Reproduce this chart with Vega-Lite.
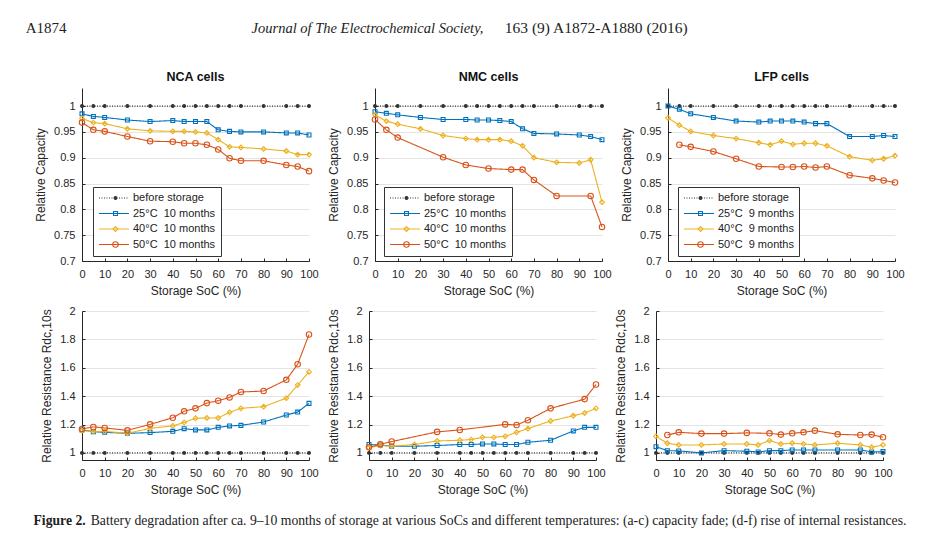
{
"$schema": "https://vega.github.io/schema/vega-lite/v6.json",
"padding": {"left": 25, "top": 21, "right": 5, "bottom": 5},
"title": {"text": "A1874", "orient": "left", "angle": 0, "anchor": "end", "frame": "bounds", "align": "left", "baseline": "top", "offset": -33, "font": "Liberation Serif", "fontStyle": "normal", "fontSize": 15, "fontWeight": "normal", "color": "#222222"},
"datasets": {
"a": [
{"s":"b","x":0,"v":1},{"s":"b","x":5,"v":1},{"s":"b","x":10,"v":1},{"s":"b","x":20,"v":1},{"s":"b","x":30,"v":1},{"s":"b","x":40,"v":1},{"s":"b","x":45,"v":1},{"s":"b","x":50,"v":1},{"s":"b","x":55,"v":1},{"s":"b","x":60,"v":1},{"s":"b","x":65,"v":1},{"s":"b","x":70,"v":1},{"s":"b","x":80,"v":1},{"s":"b","x":90,"v":1},{"s":"b","x":95,"v":1},{"s":"b","x":100,"v":1},
{"s":"25","x":0,"v":0.985},{"s":"25","x":5,"v":0.980},{"s":"25","x":10,"v":0.978},{"s":"25","x":20,"v":0.973},{"s":"25","x":30,"v":0.970},{"s":"25","x":40,"v":0.972},{"s":"25","x":45,"v":0.970},{"s":"25","x":50,"v":0.970},{"s":"25","x":55,"v":0.970},{"s":"25","x":60,"v":0.954},{"s":"25","x":65,"v":0.951},{"s":"25","x":70,"v":0.950},{"s":"25","x":80,"v":0.950},{"s":"25","x":90,"v":0.948},{"s":"25","x":95,"v":0.948},{"s":"25","x":100,"v":0.944},
{"s":"40","x":0,"v":0.976},{"s":"40","x":5,"v":0.968},{"s":"40","x":10,"v":0.966},{"s":"40","x":20,"v":0.956},{"s":"40","x":30,"v":0.952},{"s":"40","x":40,"v":0.951},{"s":"40","x":45,"v":0.951},{"s":"40","x":50,"v":0.950},{"s":"40","x":55,"v":0.948},{"s":"40","x":60,"v":0.935},{"s":"40","x":65,"v":0.921},{"s":"40","x":70,"v":0.920},{"s":"40","x":80,"v":0.917},{"s":"40","x":90,"v":0.913},{"s":"40","x":95,"v":0.906},{"s":"40","x":100,"v":0.906},
{"s":"50","x":0,"v":0.968},{"s":"50","x":5,"v":0.954},{"s":"50","x":10,"v":0.951},{"s":"50","x":20,"v":0.941},{"s":"50","x":30,"v":0.932},{"s":"50","x":40,"v":0.931},{"s":"50","x":45,"v":0.928},{"s":"50","x":50,"v":0.928},{"s":"50","x":55,"v":0.925},{"s":"50","x":60,"v":0.916},{"s":"50","x":65,"v":0.899},{"s":"50","x":70,"v":0.894},{"s":"50","x":80,"v":0.894},{"s":"50","x":90,"v":0.886},{"s":"50","x":95,"v":0.883},{"s":"50","x":100,"v":0.874}
],
"b": [
{"s":"b","x":0,"v":1},{"s":"b","x":5,"v":1},{"s":"b","x":10,"v":1},{"s":"b","x":20,"v":1},{"s":"b","x":30,"v":1},{"s":"b","x":40,"v":1},{"s":"b","x":45,"v":1},{"s":"b","x":50,"v":1},{"s":"b","x":55,"v":1},{"s":"b","x":60,"v":1},{"s":"b","x":65,"v":1},{"s":"b","x":70,"v":1},{"s":"b","x":80,"v":1},{"s":"b","x":90,"v":1},{"s":"b","x":95,"v":1},{"s":"b","x":100,"v":1},
{"s":"25","x":0,"v":0.989},{"s":"25","x":5,"v":0.986},{"s":"25","x":10,"v":0.983},{"s":"25","x":20,"v":0.978},{"s":"25","x":30,"v":0.974},{"s":"25","x":40,"v":0.974},{"s":"25","x":45,"v":0.973},{"s":"25","x":50,"v":0.973},{"s":"25","x":55,"v":0.972},{"s":"25","x":60,"v":0.970},{"s":"25","x":65,"v":0.956},{"s":"25","x":70,"v":0.947},{"s":"25","x":80,"v":0.946},{"s":"25","x":90,"v":0.944},{"s":"25","x":95,"v":0.941},{"s":"25","x":100,"v":0.935},
{"s":"40","x":0,"v":0.983},{"s":"40","x":5,"v":0.971},{"s":"40","x":10,"v":0.965},{"s":"40","x":20,"v":0.956},{"s":"40","x":30,"v":0.943},{"s":"40","x":40,"v":0.937},{"s":"40","x":45,"v":0.935},{"s":"40","x":50,"v":0.935},{"s":"40","x":55,"v":0.935},{"s":"40","x":60,"v":0.932},{"s":"40","x":65,"v":0.923},{"s":"40","x":70,"v":0.900},{"s":"40","x":80,"v":0.891},{"s":"40","x":90,"v":0.890},{"s":"40","x":95,"v":0.896},{"s":"40","x":100,"v":0.814},
{"s":"50","x":0,"v":0.974},{"s":"50","x":5,"v":0.954},{"s":"50","x":10,"v":0.939},{"s":"50","x":30,"v":0.901},{"s":"50","x":40,"v":0.886},{"s":"50","x":50,"v":0.879},{"s":"50","x":60,"v":0.877},{"s":"50","x":65,"v":0.877},{"s":"50","x":70,"v":0.857},{"s":"50","x":80,"v":0.826},{"s":"50","x":95,"v":0.826},{"s":"50","x":100,"v":0.766}
],
"c": [
{"s":"b","x":0,"v":1},{"s":"b","x":5,"v":1},{"s":"b","x":10,"v":1},{"s":"b","x":20,"v":1},{"s":"b","x":30,"v":1},{"s":"b","x":40,"v":1},{"s":"b","x":45,"v":1},{"s":"b","x":50,"v":1},{"s":"b","x":55,"v":1},{"s":"b","x":60,"v":1},{"s":"b","x":65,"v":1},{"s":"b","x":70,"v":1},{"s":"b","x":80,"v":1},{"s":"b","x":90,"v":1},{"s":"b","x":95,"v":1},{"s":"b","x":100,"v":1},
{"s":"25","x":0,"v":1.0},{"s":"25","x":5,"v":0.994},{"s":"25","x":10,"v":0.985},{"s":"25","x":20,"v":0.978},{"s":"25","x":30,"v":0.971},{"s":"25","x":40,"v":0.969},{"s":"25","x":45,"v":0.971},{"s":"25","x":50,"v":0.971},{"s":"25","x":55,"v":0.971},{"s":"25","x":60,"v":0.969},{"s":"25","x":65,"v":0.966},{"s":"25","x":70,"v":0.966},{"s":"25","x":80,"v":0.941},{"s":"25","x":90,"v":0.941},{"s":"25","x":95,"v":0.943},{"s":"25","x":100,"v":0.941},
{"s":"40","x":0,"v":0.977},{"s":"40","x":5,"v":0.963},{"s":"40","x":10,"v":0.951},{"s":"40","x":20,"v":0.943},{"s":"40","x":30,"v":0.937},{"s":"40","x":40,"v":0.929},{"s":"40","x":45,"v":0.925},{"s":"40","x":50,"v":0.932},{"s":"40","x":55,"v":0.926},{"s":"40","x":60,"v":0.928},{"s":"40","x":65,"v":0.928},{"s":"40","x":70,"v":0.923},{"s":"40","x":80,"v":0.902},{"s":"40","x":90,"v":0.895},{"s":"40","x":95,"v":0.898},{"s":"40","x":100,"v":0.904},
{"s":"50","x":5,"v":0.925},{"s":"50","x":10,"v":0.921},{"s":"50","x":20,"v":0.912},{"s":"50","x":30,"v":0.898},{"s":"50","x":40,"v":0.883},{"s":"50","x":50,"v":0.882},{"s":"50","x":55,"v":0.882},{"s":"50","x":60,"v":0.883},{"s":"50","x":65,"v":0.881},{"s":"50","x":70,"v":0.883},{"s":"50","x":80,"v":0.866},{"s":"50","x":90,"v":0.860},{"s":"50","x":95,"v":0.856},{"s":"50","x":100,"v":0.852}
],
"d": [
{"s":"b","x":0,"v":1},{"s":"b","x":5,"v":1},{"s":"b","x":10,"v":1},{"s":"b","x":20,"v":1},{"s":"b","x":30,"v":1},{"s":"b","x":40,"v":1},{"s":"b","x":45,"v":1},{"s":"b","x":50,"v":1},{"s":"b","x":55,"v":1},{"s":"b","x":60,"v":1},{"s":"b","x":65,"v":1},{"s":"b","x":70,"v":1},{"s":"b","x":80,"v":1},{"s":"b","x":90,"v":1},{"s":"b","x":95,"v":1},{"s":"b","x":100,"v":1},
{"s":"25","x":0,"v":1.162},{"s":"25","x":5,"v":1.150},{"s":"25","x":10,"v":1.145},{"s":"25","x":20,"v":1.138},{"s":"25","x":30,"v":1.143},{"s":"25","x":40,"v":1.152},{"s":"25","x":45,"v":1.171},{"s":"25","x":50,"v":1.162},{"s":"25","x":55,"v":1.162},{"s":"25","x":60,"v":1.180},{"s":"25","x":65,"v":1.190},{"s":"25","x":70,"v":1.194},{"s":"25","x":80,"v":1.218},{"s":"25","x":90,"v":1.267},{"s":"25","x":95,"v":1.288},{"s":"25","x":100,"v":1.349},
{"s":"40","x":0,"v":1.157},{"s":"40","x":5,"v":1.150},{"s":"40","x":10,"v":1.152},{"s":"40","x":20,"v":1.138},{"s":"40","x":30,"v":1.173},{"s":"40","x":40,"v":1.190},{"s":"40","x":45,"v":1.215},{"s":"40","x":50,"v":1.244},{"s":"40","x":55,"v":1.246},{"s":"40","x":60,"v":1.246},{"s":"40","x":65,"v":1.286},{"s":"40","x":70,"v":1.314},{"s":"40","x":80,"v":1.326},{"s":"40","x":90,"v":1.386},{"s":"40","x":95,"v":1.478},{"s":"40","x":100,"v":1.571},
{"s":"50","x":0,"v":1.169},{"s":"50","x":5,"v":1.183},{"s":"50","x":10,"v":1.176},{"s":"50","x":20,"v":1.159},{"s":"50","x":30,"v":1.201},{"s":"50","x":40,"v":1.248},{"s":"50","x":45,"v":1.293},{"s":"50","x":50,"v":1.314},{"s":"50","x":55,"v":1.351},{"s":"50","x":60,"v":1.368},{"s":"50","x":65,"v":1.391},{"s":"50","x":70,"v":1.429},{"s":"50","x":80,"v":1.436},{"s":"50","x":90,"v":1.515},{"s":"50","x":95,"v":1.625},{"s":"50","x":100,"v":1.834}
],
"e": [
{"s":"b","x":0,"v":1},{"s":"b","x":5,"v":1},{"s":"b","x":10,"v":1},{"s":"b","x":20,"v":1},{"s":"b","x":30,"v":1},{"s":"b","x":40,"v":1},{"s":"b","x":45,"v":1},{"s":"b","x":50,"v":1},{"s":"b","x":55,"v":1},{"s":"b","x":60,"v":1},{"s":"b","x":65,"v":1},{"s":"b","x":70,"v":1},{"s":"b","x":80,"v":1},{"s":"b","x":90,"v":1},{"s":"b","x":95,"v":1},{"s":"b","x":100,"v":1},
{"s":"25","x":0,"v":1.059},{"s":"25","x":5,"v":1.056},{"s":"25","x":10,"v":1.047},{"s":"25","x":20,"v":1.047},{"s":"25","x":30,"v":1.052},{"s":"25","x":40,"v":1.059},{"s":"25","x":45,"v":1.059},{"s":"25","x":50,"v":1.063},{"s":"25","x":55,"v":1.063},{"s":"25","x":60,"v":1.059},{"s":"25","x":65,"v":1.059},{"s":"25","x":70,"v":1.075},{"s":"25","x":80,"v":1.089},{"s":"25","x":90,"v":1.155},{"s":"25","x":95,"v":1.180},{"s":"25","x":100,"v":1.180},
{"s":"40","x":0,"v":1.037},{"s":"40","x":5,"v":1.052},{"s":"40","x":10,"v":1.047},{"s":"40","x":20,"v":1.059},{"s":"40","x":30,"v":1.084},{"s":"40","x":40,"v":1.089},{"s":"40","x":45,"v":1.094},{"s":"40","x":50,"v":1.110},{"s":"40","x":55,"v":1.110},{"s":"40","x":60,"v":1.117},{"s":"40","x":65,"v":1.145},{"s":"40","x":70,"v":1.171},{"s":"40","x":80,"v":1.225},{"s":"40","x":90,"v":1.262},{"s":"40","x":95,"v":1.281},{"s":"40","x":100,"v":1.314},
{"s":"50","x":0,"v":1.040},{"s":"50","x":5,"v":1.061},{"s":"50","x":10,"v":1.080},{"s":"50","x":30,"v":1.148},{"s":"50","x":40,"v":1.162},{"s":"50","x":60,"v":1.201},{"s":"50","x":65,"v":1.197},{"s":"50","x":70,"v":1.230},{"s":"50","x":80,"v":1.314},{"s":"50","x":95,"v":1.379},{"s":"50","x":100,"v":1.482}
],
"f": [
{"s":"b","x":0,"v":1},{"s":"b","x":5,"v":1},{"s":"b","x":10,"v":1},{"s":"b","x":20,"v":1},{"s":"b","x":30,"v":1},{"s":"b","x":40,"v":1},{"s":"b","x":45,"v":1},{"s":"b","x":50,"v":1},{"s":"b","x":55,"v":1},{"s":"b","x":60,"v":1},{"s":"b","x":65,"v":1},{"s":"b","x":70,"v":1},{"s":"b","x":80,"v":1},{"s":"b","x":90,"v":1},{"s":"b","x":95,"v":1},{"s":"b","x":100,"v":1},
{"s":"25","x":0,"v":1.044},{"s":"25","x":5,"v":1.016},{"s":"25","x":10,"v":1.014},{"s":"25","x":20,"v":1.000},{"s":"25","x":30,"v":1.016},{"s":"25","x":40,"v":1.012},{"s":"25","x":45,"v":1.007},{"s":"25","x":50,"v":1.016},{"s":"25","x":55,"v":1.016},{"s":"25","x":60,"v":1.021},{"s":"25","x":65,"v":1.021},{"s":"25","x":70,"v":1.021},{"s":"25","x":80,"v":1.021},{"s":"25","x":90,"v":1.021},{"s":"25","x":95,"v":1.007},{"s":"25","x":100,"v":1.009},
{"s":"40","x":0,"v":1.117},{"s":"40","x":5,"v":1.068},{"s":"40","x":10,"v":1.056},{"s":"40","x":20,"v":1.056},{"s":"40","x":30,"v":1.063},{"s":"40","x":40,"v":1.063},{"s":"40","x":45,"v":1.056},{"s":"40","x":50,"v":1.087},{"s":"40","x":55,"v":1.063},{"s":"40","x":60,"v":1.068},{"s":"40","x":65,"v":1.063},{"s":"40","x":70,"v":1.056},{"s":"40","x":80,"v":1.068},{"s":"40","x":90,"v":1.056},{"s":"40","x":95,"v":1.040},{"s":"40","x":100,"v":1.056},
{"s":"50","x":5,"v":1.126},{"s":"50","x":10,"v":1.145},{"s":"50","x":20,"v":1.136},{"s":"50","x":30,"v":1.136},{"s":"50","x":40,"v":1.141},{"s":"50","x":50,"v":1.138},{"s":"50","x":55,"v":1.129},{"s":"50","x":60,"v":1.138},{"s":"50","x":65,"v":1.145},{"s":"50","x":70,"v":1.157},{"s":"50","x":80,"v":1.131},{"s":"50","x":90,"v":1.126},{"s":"50","x":95,"v":1.129},{"s":"50","x":100,"v":1.110}
]
},
"spacing": 9,
"vconcat": [
{
"title": {"text": "163 (9) A1872-A1880 (2016)", "orient": "left", "angle": 0, "anchor": "end", "frame": "bounds", "align": "left", "baseline": "top", "offset": -654, "font": "Liberation Serif", "fontStyle": "normal", "fontSize": 15.5, "fontWeight": "normal", "color": "#222222"},
"vconcat": [
{
"title": {"text": "Journal of The Electrochemical Society,", "anchor": "start", "frame": "bounds", "dx": 217, "font": "Liberation Serif", "fontStyle": "italic", "fontSize": 14.5, "fontWeight": "normal", "color": "#222222", "offset": 34},
"spacing": 8,
"hconcat": [
{
"width": 227, "height": 173,
"data": {"name": "a"},
"title": {"text": "NCA cells"},
"encoding": {
"x": {"field": "x", "type": "quantitative", "scale": {"domain": [0, 100], "nice": false}, "axis": {"values": [0,10,20,30,40,50,60,70,80,90,100], "title": "Storage SoC (%)"}},
"y": {"field": "v", "type": "quantitative", "scale": {"domain": [0.7, 1.035], "nice": false, "zero": false}, "axis": {"values": [0.7,0.75,0.8,0.85,0.9,0.95,1], "format": "~g", "title": "Relative Capacity"}}
},
"layer": [
{"mark": {"type": "line", "strokeWidth": 1.1},
"encoding": {
"color": {"field": "s", "type": "nominal", "scale": {"domain": ["b","25","40","50"], "range": ["#333333","#0072BD","#EDB120","#D95319"]}, "legend": {"title": null, "orient": "none", "legendX": 11, "legendY": 99, "symbolType": "M-1,0H1", "symbolSize": 900, "symbolStrokeWidth": 1.1, "labelFontSize": 11, "labelColor": "#222222", "padding": 5, "rowPadding": 3.5, "clipHeight": 12, "strokeColor": "#333333", "fillColor": "white", "labelOffset": 3, "labelExpr": "datum.value == 'b' ? 'before storage' : datum.value + '°C\u00a0\u00a010 months'"}},
"strokeDash": {"field": "s", "type": "nominal", "scale": {"domain": ["b","25","40","50"], "range": [[1,1.5],[1,0],[1,0],[1,0]]}, "legend": {"title": null, "orient": "none", "legendX": 11, "legendY": 99, "symbolType": "M-1,0H1", "symbolSize": 900, "symbolStrokeWidth": 1.1, "labelFontSize": 11, "labelColor": "#222222", "padding": 5, "rowPadding": 3.5, "clipHeight": 12, "strokeColor": "#333333", "fillColor": "white", "labelOffset": 3, "labelExpr": "datum.value == 'b' ? 'before storage' : datum.value + '°C\u00a0\u00a010 months'"}}
}},
{"mark": {"type": "point", "filled": false, "strokeWidth": 1.1, "opacity": 1},
"encoding": {
"color": {"field": "s", "type": "nominal", "scale": {"domain": ["b","25","40","50"], "range": ["#333333","#0072BD","#EDB120","#D95319"]}, "legend": {"title": null, "orient": "none", "legendX": 11, "legendY": 99, "labelFontSize": 11, "labelExpr": "''", "padding": 5, "rowPadding": 3.5, "clipHeight": 12, "symbolOffset": 12, "symbolStrokeWidth": 1.1, "labelOffset": 3}},
"shape": {"field": "s", "type": "nominal", "scale": {"domain": ["b","25","40","50"], "range": ["circle","square","diamond","circle"]}, "legend": {"title": null, "orient": "none", "legendX": 11, "legendY": 99, "labelFontSize": 11, "labelExpr": "''", "padding": 5, "rowPadding": 3.5, "clipHeight": 12, "symbolOffset": 12, "symbolStrokeWidth": 1.1, "labelOffset": 3}},
"size": {"field": "s", "type": "nominal", "scale": {"domain": ["b","25","40","50"], "range": [8,30,45,42]}, "legend": {"title": null, "orient": "none", "legendX": 11, "legendY": 99, "labelFontSize": 11, "labelExpr": "''", "padding": 5, "rowPadding": 3.5, "clipHeight": 12, "symbolOffset": 12, "symbolStrokeWidth": 1.1, "labelOffset": 3}},
"fill": {"field": "s", "type": "nominal", "scale": {"domain": ["b","25","40","50"], "range": ["#333333","transparent","transparent","transparent"]}, "legend": {"title": null, "orient": "none", "legendX": 11, "legendY": 99, "labelFontSize": 11, "labelExpr": "''", "padding": 5, "rowPadding": 3.5, "clipHeight": 12, "symbolOffset": 12, "symbolStrokeWidth": 1.1, "labelOffset": 3}}
}},
{"data": {"values": [{"t": "(a)"}]}, "mark": {"type": "text", "align": "left", "baseline": "middle", "dx": 5, "dy": 6, "fontSize": 11, "color": "#222222"},
"encoding": {"x": {"datum": 0, "type": "quantitative"}, "y": {"datum": 1.035, "type": "quantitative"}, "text": {"field": "t"}}}
],
"resolve": {"legend": {"color": "independent", "strokeDash": "independent", "shape": "independent", "size": "independent", "fill": "independent"}}
},
{
"width": 227, "height": 173,
"data": {"name": "b"},
"title": {"text": "NMC cells"},
"encoding": {
"x": {"field": "x", "type": "quantitative", "scale": {"domain": [0, 100], "nice": false}, "axis": {"values": [0,10,20,30,40,50,60,70,80,90,100], "title": "Storage SoC (%)"}},
"y": {"field": "v", "type": "quantitative", "scale": {"domain": [0.7, 1.035], "nice": false, "zero": false}, "axis": {"values": [0.7,0.75,0.8,0.85,0.9,0.95,1], "format": "~g", "title": "Relative Capacity"}}
},
"layer": [
{"mark": {"type": "line", "strokeWidth": 1.1},
"encoding": {
"color": {"field": "s", "type": "nominal", "scale": {"domain": ["b","25","40","50"], "range": ["#333333","#0072BD","#EDB120","#D95319"]}, "legend": {"title": null, "orient": "none", "legendX": 9, "legendY": 99, "symbolType": "M-1,0H1", "symbolSize": 900, "symbolStrokeWidth": 1.1, "labelFontSize": 11, "labelColor": "#222222", "padding": 5, "rowPadding": 3.5, "clipHeight": 12, "strokeColor": "#333333", "fillColor": "white", "labelOffset": 3, "labelExpr": "datum.value == 'b' ? 'before storage' : datum.value + '°C\u00a0\u00a010 months'"}},
"strokeDash": {"field": "s", "type": "nominal", "scale": {"domain": ["b","25","40","50"], "range": [[1,1.5],[1,0],[1,0],[1,0]]}, "legend": {"title": null, "orient": "none", "legendX": 9, "legendY": 99, "symbolType": "M-1,0H1", "symbolSize": 900, "symbolStrokeWidth": 1.1, "labelFontSize": 11, "labelColor": "#222222", "padding": 5, "rowPadding": 3.5, "clipHeight": 12, "strokeColor": "#333333", "fillColor": "white", "labelOffset": 3, "labelExpr": "datum.value == 'b' ? 'before storage' : datum.value + '°C\u00a0\u00a010 months'"}}
}},
{"mark": {"type": "point", "filled": false, "strokeWidth": 1.1, "opacity": 1},
"encoding": {
"color": {"field": "s", "type": "nominal", "scale": {"domain": ["b","25","40","50"], "range": ["#333333","#0072BD","#EDB120","#D95319"]}, "legend": {"title": null, "orient": "none", "legendX": 9, "legendY": 99, "labelFontSize": 11, "labelExpr": "''", "padding": 5, "rowPadding": 3.5, "clipHeight": 12, "symbolOffset": 12, "symbolStrokeWidth": 1.1, "labelOffset": 3}},
"shape": {"field": "s", "type": "nominal", "scale": {"domain": ["b","25","40","50"], "range": ["circle","square","diamond","circle"]}, "legend": {"title": null, "orient": "none", "legendX": 9, "legendY": 99, "labelFontSize": 11, "labelExpr": "''", "padding": 5, "rowPadding": 3.5, "clipHeight": 12, "symbolOffset": 12, "symbolStrokeWidth": 1.1, "labelOffset": 3}},
"size": {"field": "s", "type": "nominal", "scale": {"domain": ["b","25","40","50"], "range": [8,30,45,42]}, "legend": {"title": null, "orient": "none", "legendX": 9, "legendY": 99, "labelFontSize": 11, "labelExpr": "''", "padding": 5, "rowPadding": 3.5, "clipHeight": 12, "symbolOffset": 12, "symbolStrokeWidth": 1.1, "labelOffset": 3}},
"fill": {"field": "s", "type": "nominal", "scale": {"domain": ["b","25","40","50"], "range": ["#333333","transparent","transparent","transparent"]}, "legend": {"title": null, "orient": "none", "legendX": 9, "legendY": 99, "labelFontSize": 11, "labelExpr": "''", "padding": 5, "rowPadding": 3.5, "clipHeight": 12, "symbolOffset": 12, "symbolStrokeWidth": 1.1, "labelOffset": 3}}
}},
{"data": {"values": [{"t": "(b)"}]}, "mark": {"type": "text", "align": "left", "baseline": "middle", "dx": 5, "dy": 6, "fontSize": 11, "color": "#222222"},
"encoding": {"x": {"datum": 0, "type": "quantitative"}, "y": {"datum": 1.035, "type": "quantitative"}, "text": {"field": "t"}}}
],
"resolve": {"legend": {"color": "independent", "strokeDash": "independent", "shape": "independent", "size": "independent", "fill": "independent"}}
},
{
"width": 227, "height": 173,
"data": {"name": "c"},
"title": {"text": "LFP cells"},
"encoding": {
"x": {"field": "x", "type": "quantitative", "scale": {"domain": [0, 100], "nice": false}, "axis": {"values": [0,10,20,30,40,50,60,70,80,90,100], "title": "Storage SoC (%)"}},
"y": {"field": "v", "type": "quantitative", "scale": {"domain": [0.7, 1.035], "nice": false, "zero": false}, "axis": {"values": [0.7,0.75,0.8,0.85,0.9,0.95,1], "format": "~g", "title": "Relative Capacity"}}
},
"layer": [
{"mark": {"type": "line", "strokeWidth": 1.1},
"encoding": {
"color": {"field": "s", "type": "nominal", "scale": {"domain": ["b","25","40","50"], "range": ["#333333","#0072BD","#EDB120","#D95319"]}, "legend": {"title": null, "orient": "none", "legendX": 10, "legendY": 99, "symbolType": "M-1,0H1", "symbolSize": 900, "symbolStrokeWidth": 1.1, "labelFontSize": 11, "labelColor": "#222222", "padding": 5, "rowPadding": 3.5, "clipHeight": 12, "strokeColor": "#333333", "fillColor": "white", "labelOffset": 3, "labelExpr": "datum.value == 'b' ? 'before storage' : datum.value + '°C\u00a0\u00a09 months'"}},
"strokeDash": {"field": "s", "type": "nominal", "scale": {"domain": ["b","25","40","50"], "range": [[1,1.5],[1,0],[1,0],[1,0]]}, "legend": {"title": null, "orient": "none", "legendX": 10, "legendY": 99, "symbolType": "M-1,0H1", "symbolSize": 900, "symbolStrokeWidth": 1.1, "labelFontSize": 11, "labelColor": "#222222", "padding": 5, "rowPadding": 3.5, "clipHeight": 12, "strokeColor": "#333333", "fillColor": "white", "labelOffset": 3, "labelExpr": "datum.value == 'b' ? 'before storage' : datum.value + '°C\u00a0\u00a09 months'"}}
}},
{"mark": {"type": "point", "filled": false, "strokeWidth": 1.1, "opacity": 1},
"encoding": {
"color": {"field": "s", "type": "nominal", "scale": {"domain": ["b","25","40","50"], "range": ["#333333","#0072BD","#EDB120","#D95319"]}, "legend": {"title": null, "orient": "none", "legendX": 10, "legendY": 99, "labelFontSize": 11, "labelExpr": "''", "padding": 5, "rowPadding": 3.5, "clipHeight": 12, "symbolOffset": 12, "symbolStrokeWidth": 1.1, "labelOffset": 3}},
"shape": {"field": "s", "type": "nominal", "scale": {"domain": ["b","25","40","50"], "range": ["circle","square","diamond","circle"]}, "legend": {"title": null, "orient": "none", "legendX": 10, "legendY": 99, "labelFontSize": 11, "labelExpr": "''", "padding": 5, "rowPadding": 3.5, "clipHeight": 12, "symbolOffset": 12, "symbolStrokeWidth": 1.1, "labelOffset": 3}},
"size": {"field": "s", "type": "nominal", "scale": {"domain": ["b","25","40","50"], "range": [8,30,45,42]}, "legend": {"title": null, "orient": "none", "legendX": 10, "legendY": 99, "labelFontSize": 11, "labelExpr": "''", "padding": 5, "rowPadding": 3.5, "clipHeight": 12, "symbolOffset": 12, "symbolStrokeWidth": 1.1, "labelOffset": 3}},
"fill": {"field": "s", "type": "nominal", "scale": {"domain": ["b","25","40","50"], "range": ["#333333","transparent","transparent","transparent"]}, "legend": {"title": null, "orient": "none", "legendX": 10, "legendY": 99, "labelFontSize": 11, "labelExpr": "''", "padding": 5, "rowPadding": 3.5, "clipHeight": 12, "symbolOffset": 12, "symbolStrokeWidth": 1.1, "labelOffset": 3}}
}},
{"data": {"values": [{"t": "(c)"}]}, "mark": {"type": "text", "align": "left", "baseline": "middle", "dx": 5, "dy": 6, "fontSize": 11, "color": "#222222"},
"encoding": {"x": {"datum": 0, "type": "quantitative"}, "y": {"datum": 1.035, "type": "quantitative"}, "text": {"field": "t"}}}
],
"resolve": {"legend": {"color": "independent", "strokeDash": "independent", "shape": "independent", "size": "independent", "fill": "independent"}}
}
],
"resolve": {"legend": {"color": "independent", "strokeDash": "independent", "shape": "independent", "size": "independent", "fill": "independent"}, "scale": {"color": "independent", "strokeDash": "independent", "shape": "independent", "size": "independent", "fill": "independent"}}
}
],
"resolve": {"legend": {"color": "independent", "strokeDash": "independent", "shape": "independent", "size": "independent", "fill": "independent"}, "scale": {"color": "independent", "strokeDash": "independent", "shape": "independent", "size": "independent", "fill": "independent"}}
},
{
"title": {"text": "Figure 2.", "orient": "left", "angle": 0, "anchor": "start", "frame": "bounds", "align": "left", "baseline": "bottom", "offset": -45, "font": "Liberation Serif", "fontStyle": "normal", "fontSize": 13.7, "fontWeight": "bold", "color": "#222222"},
"vconcat": [
{
"title": {"text": "Battery degradation after ca. 9–10 months of storage at various SoCs and different temperatures: (a-c) capacity fade; (d-f) rise of internal resistances.", "orient": "bottom", "anchor": "start", "frame": "bounds", "font": "Liberation Serif", "fontStyle": "normal", "fontSize": 13.7, "fontWeight": "normal", "color": "#222222", "dx": 50, "offset": 19},
"spacing": 8,
"hconcat": [
{
"width": 227, "height": 149,
"data": {"name": "d"},
"encoding": {
"x": {"field": "x", "type": "quantitative", "scale": {"domain": [0, 100], "nice": false}, "axis": {"values": [0,10,20,30,40,50,60,70,80,90,100], "title": "Storage SoC (%)"}},
"y": {"field": "v", "type": "quantitative", "scale": {"domain": [0.95, 2], "nice": false, "zero": false}, "axis": {"values": [1,1.2,1.4,1.6,1.8,2], "format": "~g", "title": "Relative Resistance Rdc,10s"}}
},
"layer": [
{"mark": {"type": "line", "strokeWidth": 1.1},
"encoding": {
"color": {"field": "s", "type": "nominal", "scale": {"domain": ["b","25","40","50"], "range": ["#333333","#0072BD","#EDB120","#D95319"]}, "legend": null},
"strokeDash": {"field": "s", "type": "nominal", "scale": {"domain": ["b","25","40","50"], "range": [[1,1.5],[1,0],[1,0],[1,0]]}, "legend": null}
}},
{"mark": {"type": "point", "filled": false, "strokeWidth": 1.1, "opacity": 1},
"encoding": {
"color": {"field": "s", "type": "nominal", "scale": {"domain": ["b","25","40","50"], "range": ["#333333","#0072BD","#EDB120","#D95319"]}, "legend": null},
"shape": {"field": "s", "type": "nominal", "scale": {"domain": ["b","25","40","50"], "range": ["circle","square","diamond","circle"]}, "legend": null},
"size": {"field": "s", "type": "nominal", "scale": {"domain": ["b","25","40","50"], "range": [8,30,45,42]}, "legend": null},
"fill": {"field": "s", "type": "nominal", "scale": {"domain": ["b","25","40","50"], "range": ["#333333","transparent","transparent","transparent"]}, "legend": null}
}},
{"data": {"values": [{"t": "(d)"}]}, "mark": {"type": "text", "align": "left", "baseline": "middle", "dx": 5, "dy": 14, "fontSize": 11, "color": "#222222"},
"encoding": {"x": {"datum": 0, "type": "quantitative"}, "y": {"datum": 2, "type": "quantitative"}, "text": {"field": "t"}}}
]
},
{
"width": 227, "height": 149,
"data": {"name": "e"},
"encoding": {
"x": {"field": "x", "type": "quantitative", "scale": {"domain": [0, 100], "nice": false}, "axis": {"values": [0,10,20,30,40,50,60,70,80,90,100], "title": "Storage SoC (%)"}},
"y": {"field": "v", "type": "quantitative", "scale": {"domain": [0.95, 2], "nice": false, "zero": false}, "axis": {"values": [1,1.2,1.4,1.6,1.8,2], "format": "~g", "title": "Relative Resistance Rdc,10s"}}
},
"layer": [
{"mark": {"type": "line", "strokeWidth": 1.1},
"encoding": {
"color": {"field": "s", "type": "nominal", "scale": {"domain": ["b","25","40","50"], "range": ["#333333","#0072BD","#EDB120","#D95319"]}, "legend": null},
"strokeDash": {"field": "s", "type": "nominal", "scale": {"domain": ["b","25","40","50"], "range": [[1,1.5],[1,0],[1,0],[1,0]]}, "legend": null}
}},
{"mark": {"type": "point", "filled": false, "strokeWidth": 1.1, "opacity": 1},
"encoding": {
"color": {"field": "s", "type": "nominal", "scale": {"domain": ["b","25","40","50"], "range": ["#333333","#0072BD","#EDB120","#D95319"]}, "legend": null},
"shape": {"field": "s", "type": "nominal", "scale": {"domain": ["b","25","40","50"], "range": ["circle","square","diamond","circle"]}, "legend": null},
"size": {"field": "s", "type": "nominal", "scale": {"domain": ["b","25","40","50"], "range": [8,30,45,42]}, "legend": null},
"fill": {"field": "s", "type": "nominal", "scale": {"domain": ["b","25","40","50"], "range": ["#333333","transparent","transparent","transparent"]}, "legend": null}
}},
{"data": {"values": [{"t": "(e)"}]}, "mark": {"type": "text", "align": "left", "baseline": "middle", "dx": 5, "dy": 14, "fontSize": 11, "color": "#222222"},
"encoding": {"x": {"datum": 0, "type": "quantitative"}, "y": {"datum": 2, "type": "quantitative"}, "text": {"field": "t"}}}
]
},
{
"width": 227, "height": 149,
"data": {"name": "f"},
"encoding": {
"x": {"field": "x", "type": "quantitative", "scale": {"domain": [0, 100], "nice": false}, "axis": {"values": [0,10,20,30,40,50,60,70,80,90,100], "title": "Storage SoC (%)"}},
"y": {"field": "v", "type": "quantitative", "scale": {"domain": [0.95, 2], "nice": false, "zero": false}, "axis": {"values": [1,1.2,1.4,1.6,1.8,2], "format": "~g", "title": "Relative Resistance Rdc,10s"}}
},
"layer": [
{"mark": {"type": "line", "strokeWidth": 1.1},
"encoding": {
"color": {"field": "s", "type": "nominal", "scale": {"domain": ["b","25","40","50"], "range": ["#333333","#0072BD","#EDB120","#D95319"]}, "legend": null},
"strokeDash": {"field": "s", "type": "nominal", "scale": {"domain": ["b","25","40","50"], "range": [[1,1.5],[1,0],[1,0],[1,0]]}, "legend": null}
}},
{"mark": {"type": "point", "filled": false, "strokeWidth": 1.1, "opacity": 1},
"encoding": {
"color": {"field": "s", "type": "nominal", "scale": {"domain": ["b","25","40","50"], "range": ["#333333","#0072BD","#EDB120","#D95319"]}, "legend": null},
"shape": {"field": "s", "type": "nominal", "scale": {"domain": ["b","25","40","50"], "range": ["circle","square","diamond","circle"]}, "legend": null},
"size": {"field": "s", "type": "nominal", "scale": {"domain": ["b","25","40","50"], "range": [8,30,45,42]}, "legend": null},
"fill": {"field": "s", "type": "nominal", "scale": {"domain": ["b","25","40","50"], "range": ["#333333","transparent","transparent","transparent"]}, "legend": null}
}},
{"data": {"values": [{"t": "(f)"}]}, "mark": {"type": "text", "align": "left", "baseline": "middle", "dx": 5, "dy": 14, "fontSize": 11, "color": "#222222"},
"encoding": {"x": {"datum": 0, "type": "quantitative"}, "y": {"datum": 2, "type": "quantitative"}, "text": {"field": "t"}}}
]
}
]
}
]
}
],
"resolve": {"legend": {"color": "independent", "strokeDash": "independent", "shape": "independent", "size": "independent", "fill": "independent"}, "scale": {"color": "independent", "strokeDash": "independent", "shape": "independent", "size": "independent", "fill": "independent"}},
"config": {
"font": "Liberation Sans",
"background": "white",
"view": {"stroke": null},
"axis": {"labelFontSize": 11, "labelColor": "#262626", "titleFontSize": 12, "titleFontWeight": "normal", "titleColor": "#262626", "domainColor": "#262626", "tickColor": "#262626", "tickSize": -3, "labelPadding": 10, "gridColor": "#e4e4e4", "labelFont": "Liberation Sans", "titleFont": "Liberation Sans"},
"axisX": {"grid": false, "titlePadding": 6, "labelFlush": false},
"axisY": {"grid": true, "titlePadding": 6},
"title": {"font": "Liberation Sans", "fontSize": 12.5, "fontWeight": "bold", "color": "#111111", "offset": 5},
"legend": {"labelFont": "Liberation Sans"}
}
}
